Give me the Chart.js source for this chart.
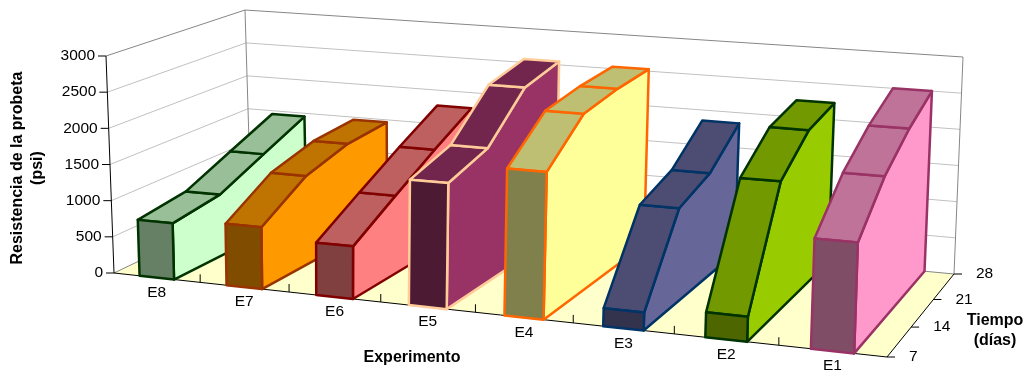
<!DOCTYPE html>
<html lang="es">
<head>
<meta charset="utf-8">
<title>Resistencia de la probeta</title>
<script src="https://cdn.jsdelivr.net/npm/chart.js@4"></script>
<style>
    html, body { margin: 0; padding: 0; background: #fff; overflow: hidden; }
    #grafico { display: block; }
</style>
</head>
<body>
<canvas id="grafico" width="1027" height="370"></canvas>
<script>
// Datos: resistencia (psi) por experimento a 7, 14, 21 y 28 días
const experimentos = ['E8', 'E7', 'E6', 'E5', 'E4', 'E3', 'E2', 'E1'];
const dias = ['7', '14', '21', '28'];
const valoresE8 = [770, 865, 1160, 1450];
const valoresE7 = [836, 1240, 1415, 1463];
const valoresE6 = [702, 1075, 1435, 1770];
const valoresE5 = [1660, 1840, 2420, 2551];
const valoresE4 = [1918, 2410, 2495, 2529];
const valoresE3 = [231, 1255, 1430, 1849];
const valoresE2 = [316, 1725, 2125, 2236];
const valoresE1 = [1377, 1905, 2250, 2500];
const valores = [valoresE8, valoresE7, valoresE6, valoresE5, valoresE4, valoresE3, valoresE2, valoresE1];

// Relleno y borde de cada cinta
const rellenos = ['#CCFFCC', '#FF9900', '#FF8080', '#993366', '#FFFF99', '#666699', '#99CC00', '#FF99CC'];
const bordes = ['#003300', '#993300', '#800000', '#FFCC99', '#FF6600', '#003366', '#003300', '#993366'];

// Esquinas de la caja 3D en pantalla: frente-izq, frente-der, fondo-der, fondo-izq
const esquinasPiso = [[114, 273], [887, 357], [954, 274], [251, 207.5]];
const esquinasTecho = [[106, 56], [895, 114], [963, 57], [245, 10]];

const FUENTE = '"Liberation Sans", Arial, sans-serif';

// Homografía del cuadrado unidad al cuadrilátero dado
function homografia(q) {
    const [[x0, y0], [x1, y1], [x2, y2], [x3, y3]] = q;
    const dx1 = x1 - x2, dx2 = x3 - x2, sx = x0 - x1 + x2 - x3;
    const dy1 = y1 - y2, dy2 = y3 - y2, sy = y0 - y1 + y2 - y3;
    const den = dx1 * dy2 - dx2 * dy1;
    const g = (sx * dy2 - dx2 * sy) / den;
    const h = (dx1 * sy - sx * dy1) / den;
    const a = x1 - x0 + g * x1, b = x3 - x0 + h * x3;
    const d = y1 - y0 + g * y1, e = y3 - y0 + h * y3;
    return (u, v) => {
        const w = g * u + h * v + 1;
        return [(a * u + b * v + x0) / w, (d * u + e * v + y0) / w];
    };
}

const piso = homografia(esquinasPiso);
const techo = homografia(esquinasTecho);

// u: a lo largo de experimentos, v: profundidad (tiempo), w: altura; todos de 0 a 1
function proyectar(u, v, w) {
    const a = piso(u, v), b = techo(u, v);
    return [a[0] + (b[0] - a[0]) * w, a[1] + (b[1] - a[1]) * w];
}

function sombra(hex, f) {
    const n = parseInt(hex.slice(1), 16);
    return `rgb(${Math.round((n >> 16) * f)},${Math.round(((n >> 8) & 255) * f)},${Math.round((n & 255) * f)})`;
}

function poligono(ctx, puntos, relleno, borde, grosor) {
    ctx.beginPath();
    puntos.forEach((p, i) => i ? ctx.lineTo(p[0], p[1]) : ctx.moveTo(p[0], p[1]));
    ctx.closePath();
    if (relleno) { ctx.fillStyle = relleno; ctx.fill(); }
    if (borde) {
        ctx.strokeStyle = borde;
        ctx.lineWidth = grosor;
        ctx.lineJoin = 'round';
        ctx.stroke();
    }
}

function linea(ctx, a, b, color, grosor) {
    ctx.beginPath();
    ctx.moveTo(a[0], a[1]);
    ctx.lineTo(b[0], b[1]);
    ctx.strokeStyle = color;
    ctx.lineWidth = grosor;
    ctx.stroke();
}

function texto(ctx, t, x, y, fuente, alin) {
    ctx.font = fuente;
    ctx.textAlign = alin || 'center';
    ctx.textBaseline = 'middle';
    ctx.fillStyle = '#000';
    ctx.fillText(t, x, y);
}

// Dibuja paredes, piso, cintas y rótulos en perspectiva a partir de las escalas del gráfico
const caja3D = {
    id: 'caja3D',
    afterDatasetsDraw(chart) {
        const ctx = chart.ctx;
        const area = chart.chartArea;
        const { x: escalaDias, y: escalaRes, exp: escalaExp } = chart.scales;
        const uDe = i => (escalaExp.getPixelForValue(i) - area.left) / area.width;
        const vDe = px => (px - area.left) / area.width;
        const wDe = py => (area.bottom - py) / area.height;

        ctx.save();

        // Piso
        poligono(ctx, [proyectar(0, 0, 0), proyectar(1, 0, 0), proyectar(1, 1, 0), proyectar(0, 1, 0)], '#FFFFCC');

        // Líneas de división en las paredes
        escalaRes.ticks.forEach(t => {
            const w = wDe(escalaRes.getPixelForValue(t.value));
            if (w <= 0 || w >= 1) return;
            linea(ctx, proyectar(0, 0, w), proyectar(0, 1, w), '#C0C0C0', 1);
            linea(ctx, proyectar(0, 1, w), proyectar(1, 1, w), '#C0C0C0', 1);
        });

        // Marco gris de las paredes
        const gris = '#868686';
        linea(ctx, proyectar(0, 0, 1), proyectar(0, 1, 1), gris, 1);
        linea(ctx, proyectar(0, 1, 1), proyectar(1, 1, 1), gris, 1);
        linea(ctx, proyectar(0, 1, 0), proyectar(0, 1, 1), gris, 1);
        linea(ctx, proyectar(1, 1, 0), proyectar(1, 1, 1), gris, 1);
        linea(ctx, proyectar(0, 0, 0), proyectar(0, 1, 0), gris, 1);
        linea(ctx, proyectar(0, 1, 0), proyectar(1, 1, 0), gris, 1);

        // Ejes en negro con sus marcas
        linea(ctx, proyectar(0, 0, 0), proyectar(0, 0, 1), '#000', 1);
        linea(ctx, proyectar(0, 0, 0), proyectar(1, 0, 0), '#000', 1);
        linea(ctx, proyectar(1, 0, 0), proyectar(1, 1, 0), '#000', 1);

        experimentos.forEach((e, i) => {
            if (i === 0) return;
            const p = proyectar(uDe(i - 0.5), 0, 0);
            linea(ctx, p, [p[0], p[1] - 8], '#000', 1);
        });

        // Una cinta por experimento, de izquierda a derecha para que se solapen bien
        chart.data.datasets.forEach((ds, i) => {
            const puntos = chart.getDatasetMeta(i).data;
            const prof = puntos.map(p => vDe(p.x));
            const alto = puntos.map(p => wDe(p.y));
            const u0 = uDe(i - 0.2), u1 = uDe(i + 0.2);
            const ultimo = puntos.length - 1;

            const lado = [proyectar(u1, prof[0], 0)];
            prof.forEach((v, j) => lado.push(proyectar(u1, v, alto[j])));
            lado.push(proyectar(u1, prof[ultimo], 0));
            poligono(ctx, lado, ds.backgroundColor, ds.borderColor, 2.5);

            for (let j = 0; j < ultimo; j++) {
                poligono(ctx, [
                    proyectar(u0, prof[j], alto[j]), proyectar(u1, prof[j], alto[j]),
                    proyectar(u1, prof[j + 1], alto[j + 1]), proyectar(u0, prof[j + 1], alto[j + 1])
                ], sombra(ds.backgroundColor, 0.75), ds.borderColor, 2.5);
            }

            poligono(ctx, [
                proyectar(u0, prof[0], 0), proyectar(u1, prof[0], 0),
                proyectar(u1, prof[0], alto[0]), proyectar(u0, prof[0], alto[0])
            ], sombra(ds.backgroundColor, 0.5), ds.borderColor, 2.5);
        });

        // Rótulos del eje de resistencia
        const fuenteTick = '15.5px ' + FUENTE;
        escalaRes.ticks.forEach(t => {
            const w = wDe(escalaRes.getPixelForValue(t.value));
            const p = proyectar(0, 0, w);
            linea(ctx, [p[0] - 8, p[1]], p, '#000', 1);
            texto(ctx, t.label, p[0] - 11, p[1], fuenteTick, 'right');
        });

        // Rótulos de experimentos
        experimentos.forEach((e, i) => {
            const p = proyectar(uDe(i), 0, 0);
            texto(ctx, e, p[0], p[1] + 15, fuenteTick);
        });

        // Rótulos del eje de tiempo
        dias.forEach((d, j) => {
            const p = proyectar(1, vDe(escalaDias.getPixelForValue(j)), 0);
            linea(ctx, p, [p[0] + 8, p[1]], '#000', 1);
            texto(ctx, d, p[0] + 22, p[1], fuenteTick, 'left');
        });

        // Títulos de los ejes
        const fuenteTitulo = 'bold 16px ' + FUENTE;
        texto(ctx, 'Experimento', 412, 358, fuenteTitulo);
        texto(ctx, 'Tiempo', 995, 321, fuenteTitulo);
        texto(ctx, '(días)', 995, 341, fuenteTitulo);
        ctx.translate(18, 168);
        ctx.rotate(-Math.PI / 2);
        texto(ctx, 'Resistencia de la probeta', 0, 0, fuenteTitulo);
        texto(ctx, '(psi)', 0, 20, fuenteTitulo);

        ctx.restore();
    }
};

const ctx = document.getElementById('grafico').getContext('2d');
const chart = new Chart(ctx, {
    type: 'line',
    data: {
        labels: dias,
        datasets: experimentos.map((e, i) => ({
            label: e,
            data: valores[i],
            backgroundColor: rellenos[i],
            borderColor: bordes[i],
            showLine: false,
            pointRadius: 0
        }))
    },
    plugins: [caja3D],
    options: {
        responsive: false,
        animation: false,
        events: [],
        layout: { padding: 20 },
        plugins: {
            legend: { display: false },
            tooltip: { enabled: false }
        },
        scales: {
            x: { display: false },
            y: { display: false, min: 0, max: 3000, ticks: { stepSize: 500, callback: v => String(v) } },
            exp: { type: 'category', axis: 'x', labels: experimentos, offset: true, display: false }
        }
    }
});
</script>
</body>
</html>
